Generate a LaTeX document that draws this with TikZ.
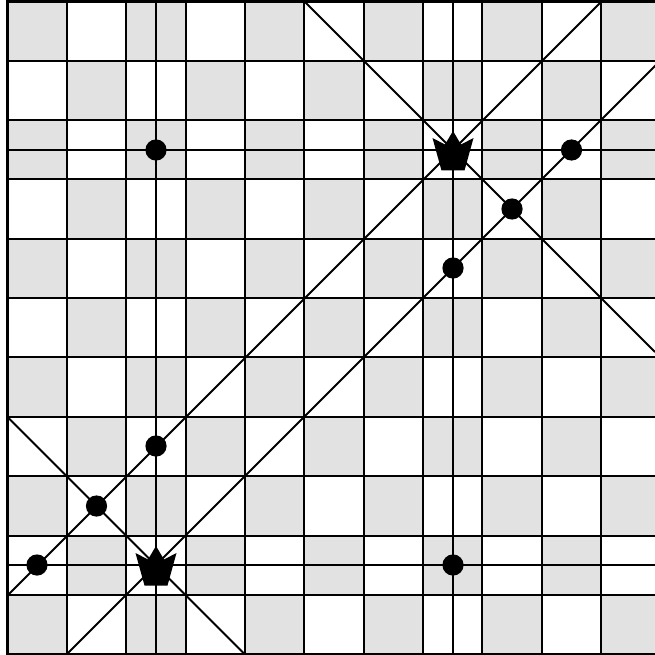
\documentclass[tikz,border=0pt]{standalone}
\definecolor{cellgrey}{HTML}{E2E2E2}
\tikzset{
  gridline/.style={black,line width=2pt},
  dotmark/.style={fill=black,draw=none},
  crownmark/.pic={\fill[black] (0,-19) -- (8,-5.5) -- (20.5,-12) -- (11.5,20.5) -- (-11.5,20.5) -- (-20.5,-12) -- (-8,-5.5) -- cycle;}
}
\begin{document}
\begin{tikzpicture}[x=1pt,y=-1pt]
\useasboundingbox (0,0) rectangle (655,655);
\clip (0,0) rectangle (655,655);
\fill[white] (0,0) rectangle (655,655);
\def\cs{59.36}
\def\xo{7.5}
\def\yo{1.3}
% cells
\foreach \i in {0,...,10}{
  \foreach \j in {0,...,10}{
    \pgfmathparse{int(mod(\i+\j,2))}
    \ifnum\pgfmathresult=0
      \fill[cellgrey] ({\xo+\i*\cs},{\yo+\j*\cs}) rectangle ++(\cs,\cs);
    \fi
  }
}
% grid
\foreach \i in {1,...,11}{
  \draw[gridline] ({\xo+\i*\cs},\yo) -- ++(0,{11*\cs});
  \draw[gridline] (\xo,{\yo+\i*\cs}) -- ++({11*\cs},0);
}
\draw[black,line width=3pt] (\xo,0) -- (\xo,655);
\draw[black,line width=3pt] (\xo,\yo) -- (655,\yo);
% lines of attack
\coordinate (KA) at (453,150);
\coordinate (KB) at (156,565);
\draw[gridline] (156,1) -- (156,655);
\draw[gridline] (453,1) -- (453,655);
\draw[gridline] (7.5,150) -- (655,150);
\draw[gridline] (7.5,565) -- (655,565);
\draw[gridline] (304,1) -- (655,352);
\draw[gridline] (602,1) -- (7.5,595.5);
\draw[gridline] (720,1) -- (67,654);
\draw[gridline] (7.5,417) -- (245,654.5);
% dots
\foreach \x/\y in {156/150,571.5/150,512/209,453/268,156/446,96.5/506,37/565,453/565}{
  \fill[dotmark] (\x,\y) circle (10.6);
}
% crowns
\pic at (KA) {crownmark};
\pic at (KB) {crownmark};
\end{tikzpicture}
\end{document}
